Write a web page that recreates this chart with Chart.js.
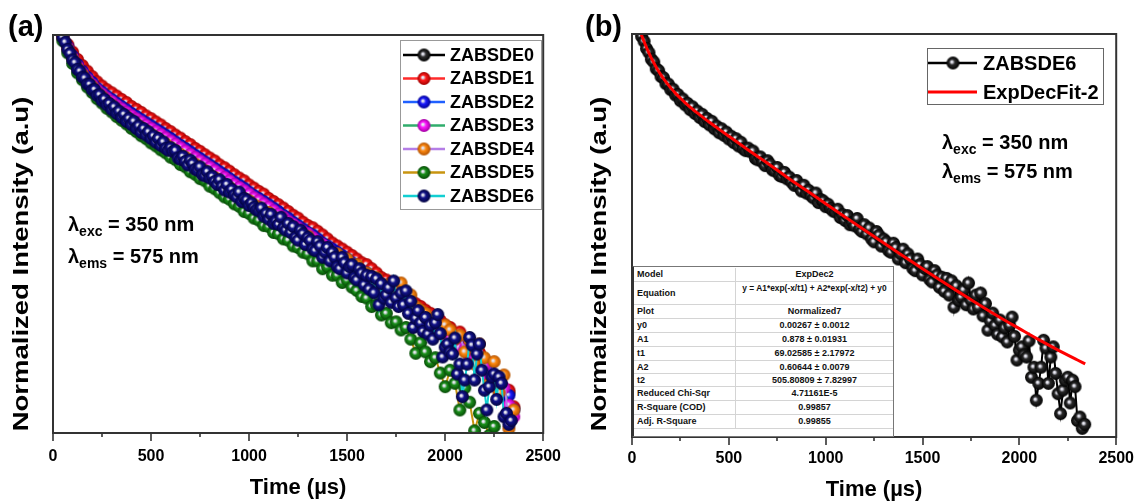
<!DOCTYPE html>
<html><head><meta charset="utf-8">
<script src="https://cdn.jsdelivr.net/npm/chart.js@4"></script>
<style>
html,body{margin:0;padding:0;background:#fff;overflow:hidden;width:1146px;height:501px;}
#ca{position:absolute;left:0;top:0;width:575px;height:501px;}
#cb{position:absolute;left:575px;top:0;width:571px;height:501px;}
#tbl{position:absolute;left:632px;top:266px;width:262px;height:171px;background:#fff;border:1px solid #777;border-left:2px solid #333;box-sizing:border-box;}
#tbl table{border-collapse:collapse;width:100%;table-layout:fixed;margin-top:1px;font:bold 9px 'Liberation Sans',Arial,sans-serif;color:#111;}
#tbl td{padding:0 3px;border-bottom:1px solid #d4d4d4;white-space:nowrap;overflow:hidden;}
#tbl td.l{width:95px;text-align:left;}
#tbl td.v{text-align:center;border-left:1px solid #d4d4d4;}
#tbl td.eq{vertical-align:top;font-size:8.4px;padding-top:1px;}
</style></head><body>
<canvas id="ca" width="575" height="501"></canvas>
<canvas id="cb" width="571" height="501"></canvas>
<div id="tbl"><table>
<tr style="height:13px"><td class="l">Model</td><td class="v">ExpDec2</td></tr>
<tr style="height:23px"><td class="l">Equation</td><td class="v eq">y = A1*exp(-x/t1) + A2*exp(-x/t2) + y0</td></tr>
<tr style="height:14px"><td class="l">Plot</td><td class="v">Normalized7</td></tr>
<tr style="height:14px"><td class="l">y0</td><td class="v">0.00267 ± 0.0012</td></tr>
<tr style="height:14px"><td class="l">A1</td><td class="v">0.878 ± 0.01931</td></tr>
<tr style="height:14px"><td class="l">t1</td><td class="v">69.02585 ± 2.17972</td></tr>
<tr style="height:13px"><td class="l">A2</td><td class="v">0.60644 ± 0.0079</td></tr>
<tr style="height:13px"><td class="l">t2</td><td class="v">505.80809 ± 7.82997</td></tr>
<tr style="height:14px"><td class="l">Reduced Chi-Sqr</td><td class="v">4.71161E-5</td></tr>
<tr style="height:14px"><td class="l">R-Square (COD)</td><td class="v">0.99857</td></tr>
<tr style="height:14px"><td class="l">Adj. R-Square</td><td class="v">0.99855</td></tr>
</table></div>
<script>
// ---------------- DATA ----------------
const times = [25,50,75,100,125,150,175,200,225,250,275,300,325,350,375,400,425,450,475,500,525,550,575,600,625,650,675,700,725,750,775,800,825,850,875,900,925,950,975,1000,1025,1050,1075,1100,1125,1150,1175,1200,1225,1250,1275,1300,1325,1350,1375,1400,1425,1450,1475,1500,1525,1550,1575,1600,1625,1650,1675,1700,1725,1750,1775,1800,1825,1850,1875,1900,1925,1950,1975,2000,2025,2050,2075,2100,2125,2150,2175,2200,2225,2250,2275,2300,2325,2350];

const zabsde0 = [1.19,0.99,0.85,0.745,0.66,0.60,0.55,0.51,0.47,0.445,
0.42,0.40,0.38,0.362,0.345,0.328,0.314,0.300,0.286,0.274,
0.262,0.250,0.238,0.227,0.216,0.206,0.196,0.187,0.178,0.170,
0.162,0.154,0.147,0.140,0.133,0.127,0.121,0.115,0.110,0.104,
0.099,0.095,0.090,0.086,0.082,0.078,0.074,0.070,0.067,0.064,
0.061,0.058,0.055,0.052,0.050,0.047,0.045,0.043,0.041,0.039,
0.037,0.035,0.033,0.032,0.030,0.029,0.027,0.026,0.025,0.0235,
0.0222,0.021,0.0202,0.019,0.018,0.0172,0.0163,0.0155,0.0148,0.0138,
0.0134,0.0122,0.0120,0.0105,0.0104,0.0090,0.0092,0.0078,0.0080,0.0065,
0.0064,0.0053,0.0054,0.0043];

const zabsde1 = [1.20,1.00,0.87,0.78,0.70,0.64,0.59,0.545,0.505,0.475,
0.45,0.43,0.41,0.39,0.373,0.352,0.338,0.323,0.307,0.295,
0.281,0.269,0.255,0.244,0.232,0.222,0.211,0.202,0.191,0.183,
0.174,0.166,0.159,0.150,0.144,0.137,0.130,0.124,0.119,0.112,
0.107,0.102,0.098,0.092,0.088,0.084,0.080,0.076,0.072,0.069,
0.065,0.062,0.060,0.057,0.054,0.051,0.048,0.046,0.044,0.042,
0.040,0.038,0.036,0.035,0.033,0.031,0.029,0.028,0.027,0.025,
0.023,0.022,0.021,0.0198,0.019,0.018,0.0172,0.0162,0.0155,0.0145,
0.0140,0.0124,0.0131,0.0108,0.0110,0.0092,0.0097,0.0079,0.0083,0.0066,
0.0068,0.0052,0.0056,0.0044];

const zabsde2 = [1.18,0.98,0.84,0.735,0.65,0.59,0.54,0.50,0.46,0.435,
0.41,0.39,0.37,0.352,0.336,0.319,0.305,0.291,0.278,0.266,
0.254,0.243,0.232,0.221,0.210,0.200,0.191,0.182,0.173,0.165,
0.157,0.150,0.143,0.136,0.130,0.123,0.117,0.112,0.107,0.101,
0.096,0.092,0.088,0.084,0.080,0.076,0.072,0.069,0.065,0.062,
0.059,0.056,0.054,0.051,0.048,0.046,0.044,0.042,0.040,0.038,
0.036,0.034,0.032,0.031,0.029,0.028,0.026,0.025,0.024,0.023,
0.0215,0.0205,0.0195,0.0185,0.0176,0.0166,0.0158,0.015,0.0142,0.0134,
0.0128,0.0120,0.0114,0.0104,0.0100,0.0089,0.0088,0.0076,0.0077,0.0064,
0.0062,0.0052,0.0052,0.0042];

const zabsde3 = [1.17,0.97,0.83,0.72,0.635,0.575,0.525,0.485,0.448,0.422,
0.398,0.378,0.358,0.340,0.324,0.308,0.294,0.281,0.268,0.256,
0.245,0.234,0.223,0.213,0.203,0.193,0.184,0.175,0.167,0.159,
0.152,0.145,0.138,0.131,0.125,0.119,0.113,0.108,0.103,0.098,
0.093,0.089,0.085,0.081,0.077,0.073,0.070,0.066,0.063,0.060,
0.057,0.055,0.052,0.049,0.047,0.045,0.042,0.040,0.038,0.037,
0.035,0.033,0.031,0.030,0.028,0.027,0.025,0.024,0.023,0.022,
0.0205,0.0198,0.0185,0.0180,0.0166,0.0162,0.0148,0.0146,0.0132,0.0130,
0.0118,0.0117,0.0104,0.0102,0.0090,0.0091,0.0078,0.0080,0.0066,0.0069,
0.0056,0.0058,0.0045,0.0038];

const zabsde4 = [1.16,0.96,0.815,0.705,0.615,0.56,0.505,0.47,0.43,0.405,
0.378,0.358,0.337,0.318,0.304,0.287,0.273,0.259,0.248,0.235,
0.225,0.213,0.204,0.193,0.185,0.175,0.168,0.158,0.152,0.144,
0.138,0.130,0.125,0.118,0.112,0.108,0.101,0.098,0.092,0.089,
0.084,0.081,0.076,0.075,0.070,0.068,0.063,0.063,0.058,0.057,
0.053,0.053,0.048,0.048,0.044,0.044,0.040,0.041,0.037,0.038,
0.034,0.035,0.031,0.031,0.028,0.029,0.026,0.026,0.024,0.025,
0.0268,0.021,0.0225,0.019,0.0180,0.0172,0.0150,0.0162,0.0128,0.0145,
0.0135,0.0118,0.0125,0.0098,0.0116,0.0082,0.0110,0.0090,0.0062,0.0085,
0.0054,0.0070,0.0032,0.0042];

const zabsde5 = [1.12,0.92,0.77,0.66,0.575,0.52,0.468,0.432,0.395,0.37,
0.343,0.325,0.304,0.288,0.273,0.256,0.244,0.230,0.220,0.207,
0.198,0.187,0.179,0.168,0.162,0.151,0.146,0.136,0.131,0.123,
0.119,0.110,0.106,0.100,0.094,0.091,0.085,0.082,0.076,0.074,
0.069,0.067,0.062,0.061,0.056,0.055,0.051,0.050,0.046,0.045,
0.042,0.041,0.037,0.037,0.033,0.034,0.030,0.030,0.027,0.028,
0.0252,0.024,0.022,0.0215,0.019,0.0195,0.0168,0.0172,0.0150,0.0152,
0.0135,0.0140,0.0118,0.0096,0.0112,0.0098,0.0085,0.0090,0.0072,0.0059,
0.0075,0.0062,0.0042,0.0058,0.0047,0.0031,0.0040,0.0035,0.0029,0.0033];

// ZABSDE6 is sampled more densely (shown in both panels)
const times6 = [12.5,25,37.5,50,62.5,75,87.5,100,
112.5,125,137.5,150,162.5,175,187.5,200,
212.5,225,237.5,250,262.5,275,287.5,300,
312.5,325,337.5,350,362.5,375,387.5,400,
412.5,425,437.5,450,462.5,475,487.5,500,
512.5,525,537.5,550,562.5,575,587.5,600,
612.5,625,637.5,650,662.5,675,687.5,700,
712.5,725,737.5,750,762.5,775,787.5,800,
812.5,825,837.5,850,862.5,875,887.5,900,
912.5,925,937.5,950,962.5,975,987.5,1000,
1012.5,1025,1037.5,1050,1062.5,1075,1087.5,1100,
1112.5,1125,1137.5,1150,1162.5,1175,1187.5,1200,
1212.5,1225,1237.5,1250,1262.5,1275,1287.5,1300,
1312.5,1325,1337.5,1350,1362.5,1375,1387.5,1400,
1412.5,1425,1437.5,1450,1462.5,1475,1487.5,1500,
1512.5,1525,1537.5,1550,1562.5,1575,1587.5,1600,
1612.5,1625,1637.5,1650,1662.5,1675,1687.5,1700,
1712.5,1725,1737.5,1750,1762.5,1775,1787.5,1800,
1812.5,1825,1837.5,1850,1862.5,1875,1887.5,1900,
1912.5,1925,1937.5,1950,1962.5,1975,1987.5,2000,
2012.5,2025,2037.5,2050,2062.5,2075,2087.5,2100,
2112.5,2125,2137.5,2150,2162.5,2175,2187.5,2200,
2212.5,2225,2237.5,2250,2262.5,2275,2287.5,2300,
2312.5,2325,2337.5];
const zabsde6 = [1.30,1.16,1.06,0.965,0.90,0.81,0.765,0.695,
0.668,0.605,0.590,0.541,0.533,0.488,0.486,0.448,
0.451,0.414,0.418,0.382,0.392,0.360,0.368,0.336,
0.350,0.318,0.329,0.300,0.314,0.283,0.296,0.270,
0.284,0.255,0.265,0.241,0.255,0.232,0.243,0.220,
0.229,0.209,0.221,0.199,0.210,0.191,0.186,0.193,
0.183,0.185,0.166,0.163,0.170,0.158,0.150,0.161,
0.153,0.141,0.139,0.146,0.130,0.128,0.136,0.124,
0.127,0.118,0.113,0.121,0.110,0.104,0.113,0.101,
0.105,0.097,0.094,0.101,0.088,0.092,0.090,0.083,
0.086,0.081,0.078,0.077,0.080,0.071,0.074,0.068,
0.073,0.064,0.066,0.063,0.070,0.060,0.058,0.064,
0.056,0.061,0.052,0.050,0.058,0.055,0.047,0.052,
0.050,0.044,0.043,0.049,0.046,0.039,0.042,0.045,
0.037,0.042,0.039,0.034,0.033,0.039,0.036,0.031,
0.034,0.035,0.029,0.028,0.033,0.031,0.026,0.030,
0.0245,0.0295,0.0232,0.0285,0.0195,0.0265,0.0215,0.0225,
0.0250,0.0202,0.0276,0.0216,0.0190,0.0232,0.0195,0.0239,
0.0172,0.0205,0.0140,0.0160,0.0179,0.0150,0.0132,0.0162,
0.0127,0.0145,0.0118,0.0150,0.0169,0.0128,0.0091,0.0105,
0.0110,0.0098,0.0095,0.0120,0.0071,0.0082,0.0051,0.0065,
0.0082,0.0121,0.0108,0.0065,0.0095,0.0110,0.0075,0.0056,
0.0042,0.0059,0.0068,0.0071,0.0049,0.0068,0.0062,0.0038,
0.0040,0.0034,0.0036];

const fitTimes = [40,50,60,75,100,125,150,175,200,225,250,275,300,350,400,450,500,600,700,800,900,1000,1100,1200,1300,1400,1500,1600,1700,1800,1900,2000,2100,2200,2300,2340];
const fitValues = [1.055,0.978,0.910,0.822,0.7065,0.620,0.553,0.501,0.460,0.425,0.396,0.371,0.349,0.312,0.280,0.253,0.229,0.188,0.155,0.127,0.105,0.0867,0.0716,0.0592,0.0491,0.0408,0.0339,0.0283,0.0237,0.0199,0.0168,0.0143,0.0122,0.0105,0.0091,0.0086];

const seriesNames = ['ZABSDE0','ZABSDE1','ZABSDE2','ZABSDE3','ZABSDE4','ZABSDE5','ZABSDE6'];
const majorTicks = [0,500,1000,1500,2000,2500];
const minorTicks = [250,750,1250,1750,2250];

// ---------------- STYLE ----------------
const FONT = "'Liberation Sans', Arial, sans-serif";
function sphere(base, dark, r) {
  const c = document.createElement('canvas');
  const s = Math.ceil(2 * r + 2); c.width = s; c.height = s;
  const g = c.getContext('2d'); const cx = s / 2, cy = s / 2;
  const grad = g.createRadialGradient(cx - r * 0.22, cy - r * 0.2, 0, cx, cy, r);
  grad.addColorStop(0, '#ffffff');
  grad.addColorStop(0.16, '#dcdce8');
  grad.addColorStop(0.42, base);
  grad.addColorStop(1, dark);
  g.fillStyle = grad; g.beginPath(); g.arc(cx, cy, r, 0, Math.PI * 2); g.fill();
  return c;
}
const lineColors = ['#000000','#ff2a2a','#2060ff','#30ad6c','#b47de6','#c89510','#12cfd2'];
const markerColors = [['#303030','#000000'],['#ff1a1a','#a00000'],['#1c1cff','#000090'],['#ff1aff','#a000a0'],['#ff8a10','#b05000'],['#1a8f1a','#064806'],['#12128a','#03033e']];
const spheres = markerColors.map(m => sphere(m[0], m[1], 6.5));
const seriesVals = [zabsde0, zabsde1, zabsde2, zabsde3, zabsde4, zabsde5, zabsde6];
const seriesTimes = [times, times, times, times, times, times, times6];
const toXY = (xs, vals) => vals.map((v, i) => ({x: xs[i], y: v}));

function drawLambda(ctx, x, y, sub, rest) {
  ctx.fillStyle = '#000'; ctx.textBaseline = 'middle'; ctx.textAlign = 'left';
  ctx.font = 'bold 20px ' + FONT; ctx.fillText('λ', x, y);
  const w1 = ctx.measureText('λ').width;
  ctx.font = 'bold 14px ' + FONT; ctx.fillText(sub, x + w1, y + 7);
  const w2 = ctx.measureText(sub).width;
  ctx.font = 'bold 20px ' + FONT; ctx.fillText(rest, x + w1 + w2, y);
}

function makeDecor(cfg) {
  return {
    id: 'decor' + cfg.key,
    afterDraw(chart) {
      const ctx = chart.ctx, a = chart.chartArea, xs = chart.scales.x;
      ctx.save();
      ctx.strokeStyle = '#333'; ctx.lineWidth = 2;
      ctx.strokeRect(a.left, a.top, a.right - a.left, a.bottom - a.top);
      ctx.lineWidth = 1.6;
      majorTicks.forEach(v => { const p = Math.round(xs.getPixelForValue(v)); ctx.beginPath(); ctx.moveTo(p, a.bottom); ctx.lineTo(p, a.bottom + 8); ctx.stroke(); });
      minorTicks.forEach(v => { const p = Math.round(xs.getPixelForValue(v)); ctx.beginPath(); ctx.moveTo(p, a.bottom); ctx.lineTo(p, a.bottom + 4); ctx.stroke(); });
      // y-axis title (stretched along its length like the original figure)
      ctx.save();
      ctx.translate(cfg.yTitleX, cfg.yTitleY); ctx.rotate(-Math.PI / 2); ctx.scale(1.25, 1);
      ctx.fillStyle = '#000'; ctx.font = 'bold 22px ' + FONT; ctx.textAlign = 'center'; ctx.textBaseline = 'middle';
      ctx.fillText('Normalized Intensity (a.u)', 0, 0);
      ctx.restore();
      // panel label
      ctx.fillStyle = '#000'; ctx.font = 'bold 29px ' + FONT; ctx.textBaseline = 'middle'; ctx.textAlign = 'left';
      ctx.fillText(cfg.panel, cfg.panelX, 28);
      // legend
      const L = cfg.legend;
      ctx.fillStyle = '#fff'; ctx.fillRect(L.x, L.y, L.w, L.h);
      ctx.strokeStyle = L.border; ctx.lineWidth = 1; ctx.strokeRect(L.x + 0.5, L.y + 0.5, L.w, L.h);
      L.rows.forEach((r, i) => {
        const ry = L.firstY + i * L.step;
        ctx.strokeStyle = r.line; ctx.lineWidth = r.lw;
        ctx.beginPath(); ctx.moveTo(L.lineX0, ry); ctx.lineTo(L.lineX1, ry); ctx.stroke();
        if (r.sphere) ctx.drawImage(r.sphere, L.markX - r.sphere.width / 2, ry - r.sphere.height / 2);
        ctx.fillStyle = '#000'; ctx.font = 'bold ' + L.fontSize + 'px ' + FONT; ctx.textBaseline = 'middle';
        ctx.fillText(r.label, L.textX, ry + 1);
      });
      cfg.lambda.forEach(t => drawLambda(ctx, t.x, t.y, t.sub, t.rest));
      ctx.restore();
    }
  };
}

function scalesFor(yWidth, xHeight, tickPad, titlePadBottom) {
  return {
    x: {
      type: 'linear', min: 0, max: 2500,
      ticks: {stepSize: 500, autoSkip: false, maxRotation: 0, padding: tickPad, color: '#000',
              font: {family: FONT, weight: 'bold', size: 16}, callback: v => String(v)},
      grid: {display: false, drawTicks: false},
      border: {display: false},
      title: {display: true, text: 'Time (µs)', color: '#000',
              font: {family: FONT, weight: 'bold', size: 22, lineHeight: 1}, padding: {top: 0, bottom: titlePadBottom}},
      afterFit(s) { s.height = xHeight; }
    },
    y: {
      type: 'logarithmic', min: 0.003, max: 1,
      ticks: {display: false},
      grid: {display: false, drawTicks: false},
      border: {display: false},
      title: {display: false},
      afterFit(s) { s.width = yWidth; }
    }
  };
}

// ---------------- PANEL (a) ----------------
const dsA = seriesNames.map((name, i) => ({
  label: name,
  data: toXY(seriesTimes[i], seriesVals[i]),
  borderColor: lineColors[i], borderWidth: 2,
  pointStyle: spheres[i], pointRadius: 6.5,
  showLine: true, tension: 0, clip: 0, order: 6 - i
}));
new Chart(document.getElementById('ca'), {
  type: 'scatter',
  data: {datasets: dsA},
  options: {
    responsive: false, animation: false, events: [],
    layout: {padding: {left: 0, top: 35, right: 28, bottom: 0}},
    plugins: {legend: {display: false}, tooltip: {enabled: false}},
    scales: scalesFor(53, 68, 14, 2)
  },
  plugins: [makeDecor({
    key: 'a', panel: '(a)', panelX: 8, yTitleX: 22, yTitleY: 264,
    legend: {x: 400, y: 40, w: 141, h: 169, border: '#999', firstY: 55, step: 23.5,
      lineX0: 403, lineX1: 445, markX: 424, textX: 450, fontSize: 18,
      rows: seriesNames.map((n, i) => ({label: n, line: lineColors[i], lw: 2.5, sphere: spheres[i]}))},
    lambda: [{x: 68, y: 225, sub: 'exc', rest: ' = 350 nm'}, {x: 68, y: 257, sub: 'ems', rest: ' = 575 nm'}]
  })]
});

// ---------------- PANEL (b) ----------------
const blackSphere = sphere('#2a2a2a', '#000000', 6.5);
new Chart(document.getElementById('cb'), {
  type: 'scatter',
  data: {datasets: [
    {label: 'ExpDecFit-2', data: toXY(fitTimes, fitValues), borderColor: '#ff0000', borderWidth: 3,
     pointRadius: 0, showLine: true, cubicInterpolationMode: 'monotone', clip: 0, order: 0},
    {label: 'ZABSDE6', data: toXY(times6, zabsde6), borderColor: '#000000', borderWidth: 2,
     pointStyle: blackSphere, pointRadius: 6.5, showLine: true, tension: 0, clip: 0, order: 1}
  ]},
  options: {
    responsive: false, animation: false, events: [],
    layout: {padding: {left: 0, top: 34, right: 21, bottom: 0}},
    plugins: {legend: {display: false}, tooltip: {enabled: false}},
    scales: scalesFor(57, 64, 12, 0)
  },
  plugins: [makeDecor({
    key: 'b', panel: '(b)', panelX: 10, yTitleX: 25, yTitleY: 264,
    legend: {x: 352, y: 48, w: 176, h: 56, border: '#666', firstY: 63, step: 29,
      lineX0: 353, lineX1: 402, markX: 378, textX: 408, fontSize: 20,
      rows: [{label: 'ZABSDE6', line: '#000', lw: 2.5, sphere: blackSphere}, {label: 'ExpDecFit-2', line: '#ff0000', lw: 3, sphere: null}]},
    lambda: [{x: 367, y: 143, sub: 'exc', rest: ' = 350 nm'}, {x: 367, y: 172, sub: 'ems', rest: ' = 575 nm'}]
  })]
});
</script>
</body></html>
